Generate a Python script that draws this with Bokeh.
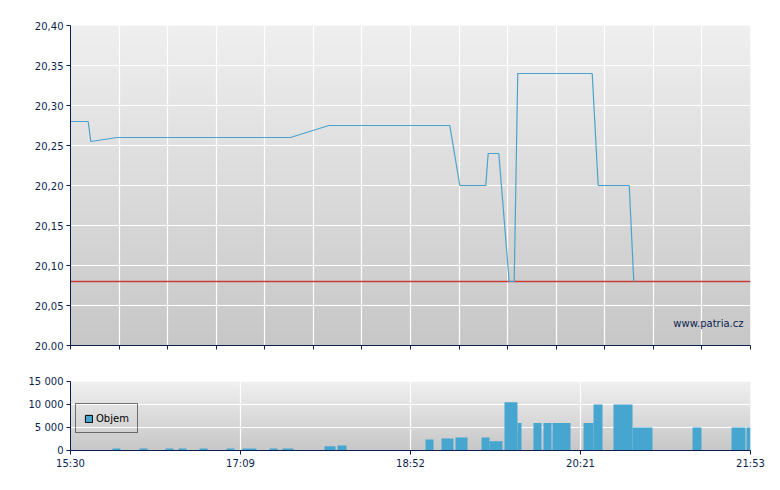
import numpy as np
from bokeh.plotting import figure
from bokeh.layouts import column
from bokeh.models import (FixedTicker, Range1d, Legend, LegendItem, Label,
                          ColumnDataSource)
from bokeh.embed import file_html
from bokeh.resources import INLINE

# x axis: trading-session slots 0..14 (15:30 .. 21:53)
price_x = [0, 0.364, 0.418, 0.961, 4.529, 5.318, 7.809, 8.015, 8.550, 8.599,
           8.818, 9.032, 9.135, 9.208, 10.741, 10.864, 11.503, 11.597]
price_y = [20.28, 20.28, 20.255, 20.26, 20.26, 20.275, 20.275, 20.20, 20.20, 20.24,
           20.24, 20.08, 20.08, 20.34, 20.34, 20.20, 20.20, 20.08]
prev_close = 20.08

vol_left = [0.865, 1.421, 1.956, 2.224, 2.656, 3.212, 3.541, 4.097, 4.365, 5.229,
            5.497, 7.309, 7.638, 7.926, 8.462, 8.627, 8.935, 9.203, 9.532, 9.738,
            9.924, 10.562, 10.768, 11.179, 11.571, 12.806, 13.609, 13.918]
vol_right = [1.029, 1.585, 2.121, 2.388, 2.821, 3.376, 3.829, 4.262, 4.591, 5.456,
             5.682, 7.474, 7.885, 8.174, 8.627, 8.894, 9.203, 9.285, 9.697, 9.903,
             10.294, 10.768, 10.953, 11.571, 11.982, 12.991, 13.897, 14.0]
volume = [450, 450, 450, 450, 450, 450, 450, 450, 450, 900,
          1100, 2400, 2600, 2800, 2800, 2000, 10500, 6000, 6000, 6000,
          6000, 6000, 10000, 10000, 5000, 5000, 5000, 5000]

x_slots = list(range(15))
time_ticks = [0, 3.5, 7, 10.5, 14]
time_labels = ["15:30", "17:09", "18:52", "20:21", "21:53"]
price_ticks = [20.00, 20.05, 20.10, 20.15, 20.20, 20.25, 20.30, 20.35, 20.40]
price_labels = ["20.00", "20,05", "20,10", "20,15", "20,20", "20,25", "20,30", "20,35", "20,40"]
vol_ticks = [0, 5000, 10000, 15000]
vol_labels = ["0", "5 000", "10 000", "15 000"]

NAVY = "#0b1f4f"
LINE = "#4aa3cd"
BAR = "#46a6cf"
RED = "#c83c3c"
FONT = "DejaVu Sans"


def gradient(n, top, bottom):
    img = np.empty((n, 1), dtype=np.uint32)
    v = img.view(dtype=np.uint8).reshape((n, 1, 4))
    t = np.linspace(0, 1, n)
    for c in range(3):
        v[:, 0, c] = np.round(bottom[c] + (top[c] - bottom[c]) * t).astype(np.uint8)
    v[:, 0, 3] = 255
    return img


def style(p):
    p.outline_line_color = None
    p.background_fill_color = None
    p.border_fill_color = "white"
    for ax in (p.xaxis[0], p.yaxis[0]):
        ax.axis_line_color = NAVY
        ax.major_tick_line_color = NAVY
        ax.minor_tick_line_color = None
        ax.major_tick_in = 0
        ax.major_tick_out = 4
        ax.major_label_text_color = NAVY
        ax.major_label_text_font = FONT
        ax.major_label_text_font_size = "10px"
        ax.major_label_standoff = 3
    p.grid.grid_line_color = "white"
    p.grid.grid_line_width = 1.2


x0, x1 = 0, 14

# ---------- price chart ----------
p = figure(frame_width=680, frame_height=320, x_range=Range1d(x0, x1),
           y_range=Range1d(20.0, 20.4), output_backend="svg", toolbar_location=None,
           min_border_left=70, min_border_right=22, min_border_top=25, min_border_bottom=15)
style(p)
p.image_rgba(image=[gradient(256, (239, 239, 239), (199, 199, 199))],
             x=x0, y=20.0, dw=x1 - x0, dh=0.4, level="image")
p.xaxis.ticker = FixedTicker(ticks=x_slots)
p.xaxis.major_label_overrides = {t: "" for t in x_slots}
p.xgrid.ticker = FixedTicker(ticks=x_slots)
p.yaxis.ticker = FixedTicker(ticks=price_ticks)
p.yaxis.major_label_overrides = dict(zip(price_ticks, price_labels))
p.ygrid.ticker = FixedTicker(ticks=price_ticks)

p.line([x0, x1], [prev_close, prev_close], line_color=RED, line_width=1.3)
p.line(price_x, price_y, line_color=LINE, line_width=1.2)

p.add_layout(Label(x=x1, y=20.0, x_offset=-7, y_offset=22, text="www.patria.cz",
                   text_align="right", text_baseline="middle", text_color=NAVY,
                   text_font=FONT, text_font_size="10px"))

# ---------- volume chart ----------
v = figure(frame_width=680, frame_height=69, x_range=Range1d(x0, x1),
           y_range=Range1d(0, 15000), output_backend="svg", toolbar_location=None,
           min_border_left=70, min_border_right=22, min_border_top=21, min_border_bottom=28)
style(v)
v.image_rgba(image=[gradient(128, (240, 240, 240), (199, 199, 199))],
             x=x0, y=0, dw=x1 - x0, dh=15000, level="image")
v.xaxis.ticker = FixedTicker(ticks=time_ticks)
v.xaxis.major_label_overrides = dict(zip(time_ticks, time_labels))
v.xgrid.ticker = FixedTicker(ticks=time_ticks)
v.yaxis.ticker = FixedTicker(ticks=vol_ticks)
v.yaxis.major_label_overrides = dict(zip(vol_ticks, vol_labels))
v.ygrid.ticker = FixedTicker(ticks=vol_ticks)

vsrc = ColumnDataSource(dict(left=vol_left, right=vol_right, top=volume))
v.quad(left="left", right="right", bottom=0, top="top", source=vsrc,
       fill_color=BAR, line_color=None)
# legend-swatch renderer: same data mapped to a range that lies outside the frame
v.extra_y_ranges = {"legend": Range1d(start=-2, end=-1)}
legend_r = v.quad(left="left", right="right", bottom=0, top="top", source=vsrc,
                  y_range_name="legend", fill_color=BAR, line_color="black", line_width=1)
leg = Legend(items=[LegendItem(label="Objem", renderers=[legend_r])],
             location=(5, 17), border_line_color="black", border_line_width=1,
             background_fill_alpha=0, padding=8, margin=0, spacing=0,
             glyph_width=9, glyph_height=9, label_standoff=3, label_height=12,
             label_text_font=FONT, label_text_font_size="10px", label_text_color="black")
v.add_layout(leg, "center")

layout = column(p, v, spacing=0)
open("out.html", "w").write(file_html(layout, INLINE))
